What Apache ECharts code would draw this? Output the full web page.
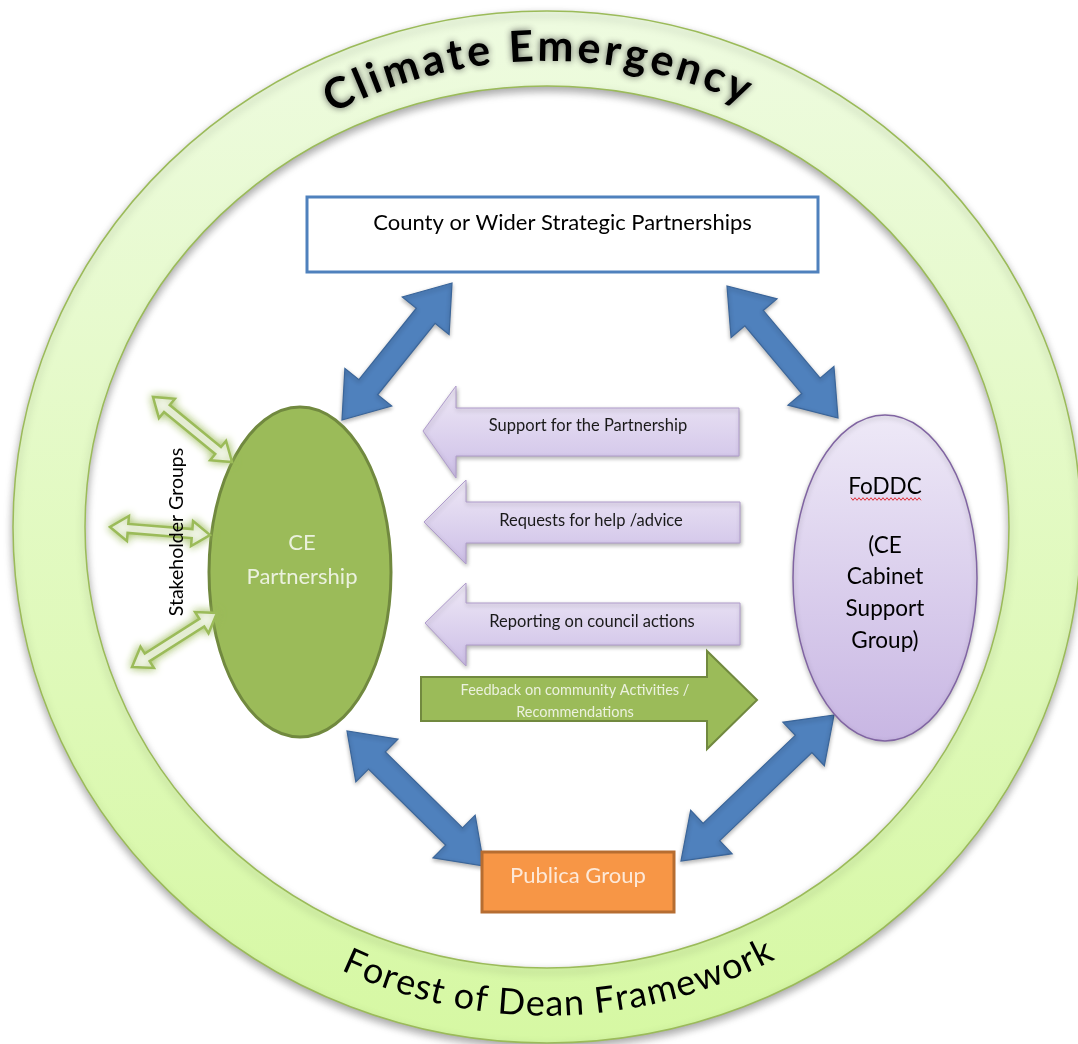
<!DOCTYPE html>
<html lang="en">
<head>
<meta charset="UTF-8">
<title>Forest of Dean Framework</title>
<style>
  html, body { margin: 0; padding: 0; background: #fff; }
  #main { width: 1078px; height: 1044px; }
</style>
<script src="https://cdn.jsdelivr.net/npm/echarts@6/dist/echarts.min.js"></script>
</head>
<body>
<div id="main"></div>
<script>
// ---- texts of the diagram ----
var ringTitles = ['Climate Emergency', 'Forest of Dean Framework'];
var boxLabels = ['County or Wider Strategic Partnerships', 'Publica Group'];
var ovalLabels = [['CE', 'Partnership'], ['FoDDC', '(CE', 'Cabinet', 'Support', 'Group)']];
var flowLabels = ['Support for the Partnership', 'Requests for help /advice',
                  'Reporting on council actions', 'Feedback on community Activities /\nRecommendations'];
var stakeLabel = 'Stakeholder Groups';

// ---- layout, in units of the hidden axes (0..1078 x 0..1044) ----
var ring = { cx: 547, cy: 527, rx: 534, ry: 516, irx: 462, iry: 441 };
// radius of text centre, start angle, end angle (deg), font size, weight
var arcLayout = [[480, -27.4, 24.9, 43, 'bold'], [477, -25, 27.9, 36, 'normal']];
var boxLayout = [[307, 197, 818, 272, 223], [482, 852, 674, 912, 876]];
var ovalLayout = [[300, 572, 91, 165], [885, 578, 92, 163]];
var ovalTextY = [[543, 577], [487, 546, 577, 609, 641]];
var blueArrows = [[452, 283, 342, 420], [727, 286, 838, 418], [347, 731, 484, 866], [834, 715, 681, 861]];
// tipX, tipY, headBaseX, headTop, headBottom, bodyTop, bodyBottom, endX
var flowLayout = [[423, 431, 456, 386, 478, 408, 456, 739],
                  [424, 522, 466, 480, 564, 502, 543, 740],
                  [425, 623, 466, 583, 666, 603, 645, 740],
                  [757, 700, 707, 651, 749, 677, 721, 421]];
var flowTextX = [588, 591, 592, 575];
var flowTextY = [[426], [521], [622], [690, 712]];
var flowFont = [16.5, 16.5, 16.5, 14.5];
var stakeArrows = [[153, 397, 232, 462], [110, 527, 210, 535], [132, 667, 217, 613]];
var stakeTextPos = [177, 532];
var squiggle = [851, 921, 499];

var FONT = 'Lato';

var measureCtx = document.createElement('canvas').getContext('2d');

function doubleArrow(p, q, sw, hw, hl) {
    var dx = q[0] - p[0], dy = q[1] - p[1];
    var L = Math.sqrt(dx * dx + dy * dy);
    var ux = dx / L, uy = dy / L, nx = -uy, ny = ux;
    function at(b, along, side) {
        return [b[0] + ux * along + nx * side, b[1] + uy * along + ny * side];
    }
    return [p, at(p, hl, hw / 2), at(p, hl, sw / 2), at(q, -hl, sw / 2), at(q, -hl, hw / 2),
            q, at(q, -hl, -hw / 2), at(q, -hl, -sw / 2), at(p, hl, -sw / 2), at(p, hl, -hw / 2)];
}

function idx(arr) { return arr.map(function (d, i) { return [i, 0]; }); }

function renderRing(params, api) {
    var c = api.coord([ring.cx, ring.cy]);
    var o = api.size([ring.rx, ring.ry]);
    var n = api.size([ring.irx, ring.iry]);
    var d = 'M' + (c[0] - o[0]) + ' ' + c[1] +
        ' A' + o[0] + ' ' + o[1] + ' 0 1 1 ' + (c[0] + o[0]) + ' ' + c[1] +
        ' A' + o[0] + ' ' + o[1] + ' 0 1 1 ' + (c[0] - o[0]) + ' ' + c[1] + ' Z' +
        ' M' + (c[0] - n[0]) + ' ' + c[1] +
        ' A' + n[0] + ' ' + n[1] + ' 0 1 0 ' + (c[0] + n[0]) + ' ' + c[1] +
        ' A' + n[0] + ' ' + n[1] + ' 0 1 0 ' + (c[0] - n[0]) + ' ' + c[1] + ' Z';
    return {
        type: 'path',
        shape: { pathData: d },
        style: {
            fill: new echarts.graphic.LinearGradient(0, 0, 0, 1, [
                { offset: 0, color: '#eefbe0' }, { offset: 1, color: '#d6f8a3' }]),
            stroke: '#9bbb59', lineWidth: 1.5,
            shadowBlur: 9, shadowOffsetY: 4, shadowColor: 'rgba(0,0,0,0.35)'
        }
    };
}

function renderArcText(params, api) {
    var i = params.dataIndex, lay = arcLayout[i], txt = ringTitles[i];
    var c = api.coord([ring.cx, ring.cy]);
    var R = api.size([lay[0], 0])[0];
    var font = lay[4] + ' ' + lay[3] + 'px ' + FONT;
    measureCtx.font = font;
    var widths = txt.split('').map(function (ch) { return measureCtx.measureText(ch).width; });
    var total = widths.reduce(function (a, b) { return a + b; }, 0);
    var span = (lay[2] - lay[1]) * Math.PI / 180 * R;
    var gap = (span - total) / (txt.length - 1);
    var acc = 0, kids = [];
    txt.split('').forEach(function (ch, k) {
        var a = lay[1] * Math.PI / 180 + (acc + widths[k] / 2) / R;
        acc += widths[k] + gap;
        var x, y, rot;
        if (i === 0) { x = c[0] + R * Math.sin(a); y = c[1] - R * Math.cos(a); rot = -a; }
        else { x = c[0] + R * Math.sin(a); y = c[1] + R * Math.cos(a); rot = a; }
        kids.push({
            type: 'text', x: x, y: y, rotation: rot,
            style: {
                text: ch, font: font, fill: '#000',
                align: 'center', verticalAlign: 'middle',
                textShadowColor: i === 0 ? 'rgba(70,70,70,0.9)' : 'transparent',
                textShadowBlur: i === 0 ? 7 : 0
            }
        });
    });
    return { type: 'group', children: kids };
}

function renderBox(params, api) {
    var i = params.dataIndex, b = boxLayout[i];
    var p0 = api.coord([b[0], b[1]]), p1 = api.coord([b[2], b[3]]);
    var t = api.coord([(b[0] + b[2]) / 2, b[4]]);
    return {
        type: 'group',
        children: [{
            type: 'rect',
            shape: { x: p0[0], y: p0[1], width: p1[0] - p0[0], height: p1[1] - p0[1] },
            style: i === 0 ? { fill: '#fff', stroke: '#4f81bd', lineWidth: 3 }
                           : { fill: '#f79646', stroke: '#b66d31', lineWidth: 3 }
        }, {
            type: 'text', x: t[0], y: t[1],
            style: {
                text: boxLabels[i], font: '22px ' + FONT,
                fill: i === 0 ? '#000' : '#fde9d9', align: 'center', verticalAlign: 'middle'
            }
        }]
    };
}

function renderBlueArrow(params, api) {
    var a = blueArrows[params.dataIndex];
    var pts = doubleArrow(api.coord([a[0], a[1]]), api.coord([a[2], a[3]]), 24, 60, 42);
    return {
        type: 'polygon', shape: { points: pts },
        style: { fill: '#4f81bd', stroke: '#3a659a', lineWidth: 1.2,
                 shadowBlur: 4, shadowOffsetY: 2, shadowColor: 'rgba(0,0,0,0.3)' }
    };
}

function renderOval(params, api) {
    var i = params.dataIndex, o = ovalLayout[i];
    var c = api.coord([o[0], o[1]]), r = api.size([o[2], o[3]]);
    var kids = [{
        type: 'ellipse',
        shape: { cx: c[0], cy: c[1], rx: r[0], ry: r[1] },
        style: i === 0
            ? { fill: '#9bbb59', stroke: '#71893f', lineWidth: 3 }
            : { fill: new echarts.graphic.LinearGradient(0, 0, 0, 1, [
                    { offset: 0, color: '#eee9f7' }, { offset: 1, color: '#c8b6e3' }]),
                stroke: '#8064a2', lineWidth: 1.5,
                shadowBlur: 5, shadowOffsetY: 2, shadowColor: 'rgba(0,0,0,0.25)' }
    }];
    ovalLabels[i].forEach(function (s, k) {
        var t = api.coord([o[0], ovalTextY[i][k]]);
        kids.push({
            type: 'text', x: t[0] + (i === 0 ? 2 : 0), y: t[1],
            style: { text: s, font: (i === 0 ? '22px ' : '22.5px ') + FONT, fill: i === 0 ? '#ebf1de' : '#000',
                     align: 'center', verticalAlign: 'middle' }
        });
    });
    if (i === 1) {
        var pts = [], s0 = api.coord([squiggle[0], squiggle[2]]), s1 = api.coord([squiggle[1], squiggle[2]]);
        for (var x = s0[0], k = 0; x <= s1[0]; x += 2, k++) {
            pts.push([x, s0[1] + (k % 2 ? 1.3 : -1.3)]);
        }
        kids.push({ type: 'polyline', shape: { points: pts }, style: { stroke: '#e0303a', lineWidth: 1, fill: null } });
    }
    return { type: 'group', children: kids };
}

function renderFlow(params, api) {
    var i = params.dataIndex, f = flowLayout[i];
    var raw = [[f[0], f[1]], [f[2], f[3]], [f[2], f[5]], [f[7], f[5]],
               [f[7], f[6]], [f[2], f[6]], [f[2], f[4]]];
    var pts = raw.map(function (p) { return api.coord(p); });
    var green = i === 3;
    var kids = [{
        type: 'polygon', shape: { points: pts },
        style: green
            ? { fill: '#9bbb59', stroke: '#71893f', lineWidth: 2 }
            : { fill: new echarts.graphic.LinearGradient(0, 0, 0, 1, [
                    { offset: 0, color: '#eee8f6' }, { offset: 1, color: '#cdbfe7' }]),
                stroke: '#b09ccc', lineWidth: 1,
                shadowBlur: 4, shadowOffsetX: 1, shadowOffsetY: 2, shadowColor: 'rgba(0,0,0,0.3)' }
    }];
    flowLabels[i].split('\n').forEach(function (s, k) {
        var t = api.coord([flowTextX[i], flowTextY[i][k]]);
        kids.push({
            type: 'text', x: t[0], y: t[1],
            style: { text: s, font: flowFont[i] + 'px ' + FONT, fill: green ? '#ebf1de' : '#1a1a1a',
                     align: 'center', verticalAlign: 'middle' }
        });
    });
    return { type: 'group', children: kids };
}

function renderStake(params, api) {
    var a = stakeArrows[params.dataIndex];
    var pts = doubleArrow(api.coord([a[0], a[1]]), api.coord([a[2], a[3]]), 9, 25, 18);
    return {
        type: 'polygon', shape: { points: pts },
        style: { fill: '#fff', stroke: '#9bbb59', lineWidth: 2.5,
                 shadowBlur: 8, shadowColor: 'rgba(155,187,89,0.95)' }
    };
}

function renderStakeText(params, api) {
    var t = api.coord(stakeTextPos);
    return {
        type: 'text', x: t[0], y: t[1], rotation: Math.PI / 2,
        style: { text: stakeLabel, font: '19.5px ' + FONT, fill: '#000', align: 'center', verticalAlign: 'middle' }
    };
}

function series(name, data, fn, z) {
    return { type: 'custom', name: name, coordinateSystem: 'cartesian2d', data: idx(data),
             renderItem: fn, z: z, silent: true, animation: false };
}

var chart = echarts.init(document.getElementById('main'));
chart.setOption({
    animation: false,
    grid: { left: 0, right: 0, top: 0, bottom: 0 },
    xAxis: { type: 'value', min: 0, max: 1078, show: false },
    yAxis: { type: 'value', min: 0, max: 1044, inverse: true, show: false },
    series: [
        series('ring', [0], renderRing, 1),
        series('ringTitles', ringTitles, renderArcText, 2),
        series('boxTop', [0], renderBox, 3),
        series('links', blueArrows, renderBlueArrow, 4),
        series('ovals', ovalLabels, renderOval, 5),
        series('flows', flowLabels, renderFlow, 6),
        series('stakeholders', stakeArrows, renderStake, 7),
        series('stakeLabel', [0], renderStakeText, 8),
        { type: 'custom', coordinateSystem: 'cartesian2d', data: [[1, 0]], z: 9, silent: true,
          renderItem: function (p, api) { return renderBox({ dataIndex: 1 }, api); } }
    ]
});
</script>
</body>
</html>
